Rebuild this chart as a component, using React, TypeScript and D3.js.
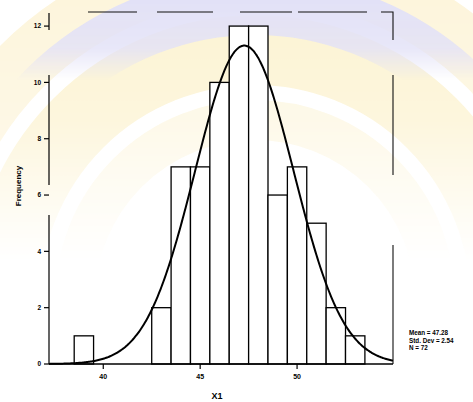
import React from 'react';
import * as d3 from 'd3';

// histogram of X1 (bins of width 1, centred on whole numbers)
const binCenters = [39, 43, 44, 45, 46, 47, 48, 49, 50, 51, 52, 53];
const frequencies = [1, 2, 7, 7, 10, 12, 12, 6, 7, 5, 2, 1];
const yTicks = [0, 2, 4, 6, 8, 10, 12];
const xTicks = [40, 45, 50];
const statLines = ['Mean = 47.28', 'Std. Dev = 2.54', 'N = 72'];
const mean = 47.28;
const stdDev = 2.54;
const n = 72;

const W = 473;
const H = 402;

const App = () => {
  const x = d3.scaleLinear().domain([37.2, 54.95]).range([49, 393]);
  const y = d3.scaleLinear().domain([0, 12.5]).range([364, 12]);

  // fitted normal curve scaled to counts
  const normal = (v: number) =>
    (n / (stdDev * Math.sqrt(2 * Math.PI))) * Math.exp(-((v - mean) ** 2) / (2 * stdDev * stdDev));
  const curveXs = d3.range(37.2, 54.96, 0.05);
  const curve = d3
    .line<number>()
    .x((d) => x(d))
    .y((d) => y(normal(d)))
    .curve(d3.curveBasis)(curveXs);

  const [x0, x1] = x.range();
  const [yb, yt] = y.range();

  return (
    <svg width={W} height={H} style={{ position: 'absolute', left: 0, top: 0 }}>
      <defs>
        <linearGradient id="fade" x1="0" y1="0" x2="0" y2="1">
          <stop offset="0" stopColor="#fff" stopOpacity={1} />
          <stop offset="0.3" stopColor="#fff" stopOpacity={0.75} />
          <stop offset="0.65" stopColor="#fff" stopOpacity={0} />
        </linearGradient>
        <linearGradient id="fadeTop" x1="0" y1="0" x2="0" y2="1">
          <stop offset="0" stopColor="#fff" stopOpacity={1} />
          <stop offset="0.12" stopColor="#fff" stopOpacity={0.8} />
          <stop offset="0.2" stopColor="#fff" stopOpacity={0} />
        </linearGradient>
        <mask id="wm">
          <rect width={W} height={H} fill="url(#fade)" />
        </mask>
        <mask id="wmTop">
          <rect width={W} height={H} fill="url(#fadeTop)" />
        </mask>
      </defs>
      <rect width={W} height={H} fill="#fff" />
      {/* faint watermark behind the chart */}
      <g fill="none" mask="url(#wm)">
        <circle cx={255} cy={300} r={250} stroke="#fcf3d2" strokeWidth={70} />
        <circle cx={255} cy={300} r={180} stroke="#fdf7e2" strokeWidth={40} />
        <circle cx={255} cy={300} r={330} stroke="#fdf5dc" strokeWidth={60} />
      </g>
      <g fill="none" mask="url(#wmTop)">
        <circle cx={255} cy={300} r={295} stroke="#e2e1f7" strokeWidth={60} />
      </g>

      {/* broken frame (top + right) */}
      <path
        d={`M${x0},${yt}H${x1}V${yb}`}
        fill="none"
        stroke="#111"
        strokeWidth={1.1}
        strokeDasharray="0 39 49 20 56 27 52 6 69 14 40 35 100 70 119"
      />

      {/* bars */}
      {binCenters.map((c, i) => (
        <rect
          key={c}
          x={x(c - 0.5)}
          y={y(frequencies[i])}
          width={x(c + 0.5) - x(c - 0.5)}
          height={yb - y(frequencies[i])}
          fill="#fff"
          stroke="#000"
          strokeWidth={1.3}
        />
      ))}

      {/* normal curve */}
      <path d={curve || ''} fill="none" stroke="#000" strokeWidth={2} />

      {/* y axis */}
      <line x1={x0} x2={x0} y1={yt + 1} y2={yb} stroke="#000" strokeWidth={1.2} strokeDasharray="17 45 110 30 200" />
      {yTicks.map((t) => (
        <g key={t} transform={`translate(0,${y(t)})`}>
          <line x1={x0 - 5} x2={x0} stroke="#000" strokeWidth={1.2} />
          <text
            x={x0 - 8}
            dy="0.35em"
            textAnchor="end"
            fontSize={6.5}
            fontWeight="bold"
            fontFamily="Liberation Sans, Arial, sans-serif"
          >
            {t}
          </text>
        </g>
      ))}

      {/* x axis */}
      <line x1={x0} x2={x1} y1={yb} y2={yb} stroke="#000" strokeWidth={1.4} />
      {xTicks.map((t) => (
        <g key={t} transform={`translate(${x(t)},${yb})`}>
          <line y1={0} y2={5} stroke="#000" strokeWidth={1.2} />
          <text
            y={15}
            textAnchor="middle"
            fontSize={7}
            fontWeight="bold"
            fontFamily="Liberation Sans, Arial, sans-serif"
          >
            {t}
          </text>
        </g>
      ))}

      {/* axis titles */}
      <text
        x={217}
        y={399}
        textAnchor="middle"
        fontSize={9}
        fontWeight="bold"
        fontFamily="Liberation Sans, Arial, sans-serif"
      >
        X1
      </text>
      <text
        transform={`translate(21,${(yt + yb) / 2 - 2}) rotate(-90)`}
        textAnchor="middle"
        fontSize={8}
        fontWeight="bold"
        fontFamily="Liberation Sans, Arial, sans-serif"
      >
        Frequency
      </text>

      {/* summary statistics */}
      {statLines.map((s, i) => (
        <text
          key={s}
          x={409}
          y={335 + i * 7.5}
          fontSize={6.3}
          fontWeight="bold"
          fontFamily="Liberation Sans, Arial, sans-serif"
        >
          {s}
        </text>
      ))}
    </svg>
  );
};

export default App;
